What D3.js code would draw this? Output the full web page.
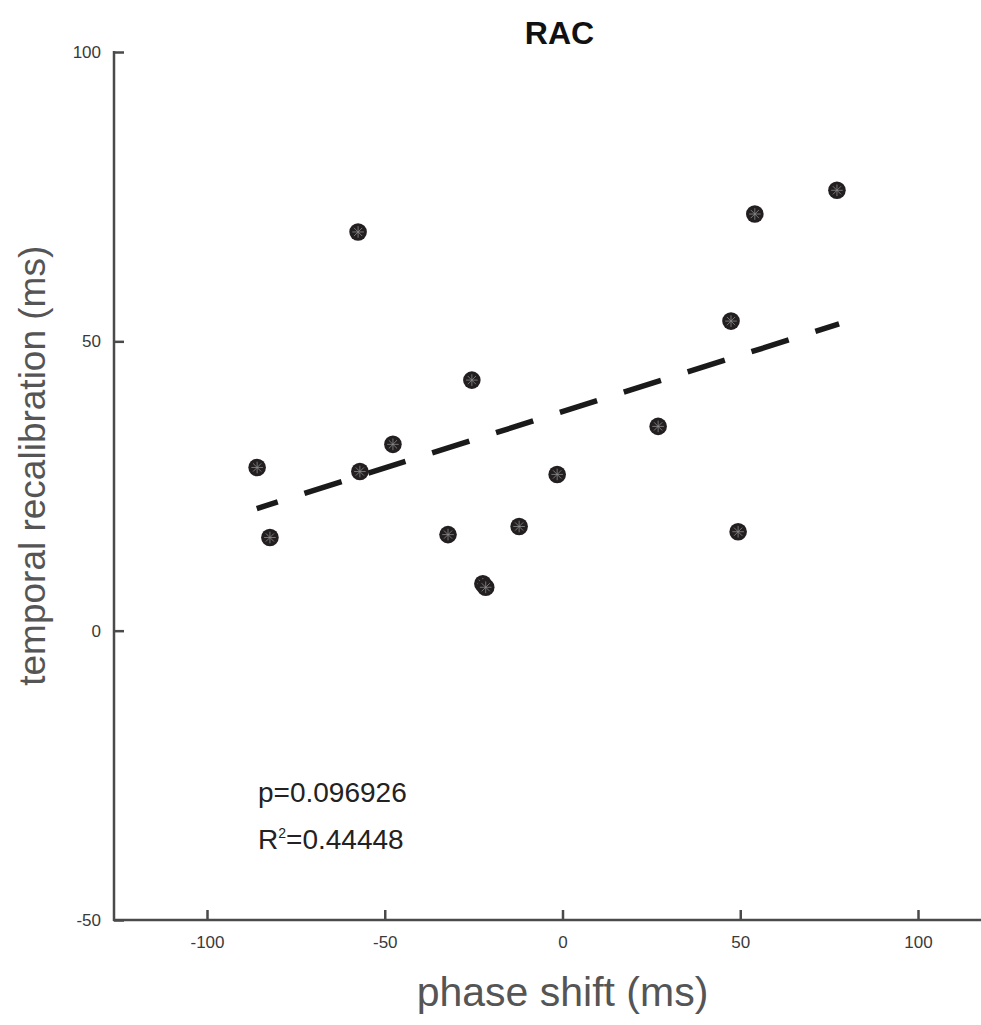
<!DOCTYPE html>
<html>
<head>
<meta charset="utf-8">
<script src="https://cdn.jsdelivr.net/npm/d3@7"></script>
<style>
  html, body { margin: 0; padding: 0; background: #fff; }
  svg { display: block; font-family: "Liberation Sans", Arial, Helvetica, sans-serif; }
</style>
</head>
<body>
<svg id="chart" width="981" height="1025"></svg>
<script>
// ---- data ----
const phaseShift = [-85.9, -82.3, -57.5, -57.0, -47.7, -32.2, -25.5, -22.4, -21.6, -12.2, -1.5, 26.9, 47.4, 49.4, 54.1, 77.2];
const recalibration = [28.2, 16.1, 68.9, 27.5, 32.2, 16.6, 43.3, 8.1, 7.5, 18.0, 27.0, 35.3, 53.5, 17.1, 72.0, 76.1];
const fitX = [-86.0, 77.8];
const fitY = [21.1, 53.0];
const xTicks = [-100, -50, 0, 50, 100];
const yTicks = [-50, 0, 50, 100];
const titleText = "RAC";
const xLabel = "phase shift (ms)";
const yLabel = "temporal recalibration (ms)";
const statP = "p=0.096926";
const statR = "0.44448";

// ---- scales ----
const svg = d3.select("#chart");
const x = d3.scaleLinear().domain([-100, 100]).range([207, 918]);
const y = d3.scaleLinear().domain([-50, 100]).range([920, 52]);
const axisColor = "#4a4a4a";
const xLeft = 114, xRight = 981;
const fmt = d => String(d);

// x axis
const gx = svg.append("g").attr("transform", `translate(0,${y(-50)})`);
gx.call(d3.axisBottom(x).tickValues(xTicks).tickSize(-10).tickPadding(16).tickFormat(fmt));
gx.select(".domain").remove();
gx.append("line").attr("x1", xLeft - 1).attr("x2", xRight).attr("y1", 0).attr("y2", 0)
  .attr("stroke", axisColor).attr("stroke-width", 2.5);
gx.selectAll(".tick line").attr("stroke", axisColor).attr("stroke-width", 2.5);
gx.selectAll(".tick text").attr("fill", "#3a3a3a").attr("font-size", 17)
  .attr("font-family", "Liberation Sans, Arial, sans-serif");

// y axis
const gy = svg.append("g").attr("transform", `translate(${xLeft},0)`);
gy.call(d3.axisLeft(y).tickValues(yTicks).tickSize(-10).tickPadding(13).tickFormat(fmt));
gy.select(".domain").remove();
gy.append("line").attr("x1", 0).attr("x2", 0).attr("y1", y(100) - 1).attr("y2", y(-50) + 1)
  .attr("stroke", axisColor).attr("stroke-width", 2.5);
gy.selectAll(".tick line").attr("stroke", axisColor).attr("stroke-width", 2.5);
gy.selectAll(".tick text").attr("fill", "#3a3a3a").attr("font-size", 17)
  .attr("font-family", "Liberation Sans, Arial, sans-serif");

// fit line (dashed)
svg.append("line")
  .attr("x1", x(fitX[0])).attr("y1", y(fitY[0]))
  .attr("x2", x(fitX[1])).attr("y2", y(fitY[1]))
  .attr("stroke", "#1a1a1a").attr("stroke-width", 5.5)
  .attr("stroke-dasharray", "39,28").attr("stroke-dashoffset", 17);

// points
const pts = d3.range(phaseShift.length).map(i => ({ x: phaseShift[i], y: recalibration[i] }));
const gp = svg.append("g");
const node = gp.selectAll("g.pt").data(pts).join("g").attr("class", "pt")
  .attr("transform", d => `translate(${x(d.x)},${y(d.y)})`);
node.append("circle").attr("r", 8.8).attr("fill", "#231f20");
const ar = 5.8;
[0, 45, 90, 135].forEach(a => {
  const r = a * Math.PI / 180;
  node.append("line")
    .attr("x1", -ar * Math.cos(r)).attr("y1", -ar * Math.sin(r))
    .attr("x2", ar * Math.cos(r)).attr("y2", ar * Math.sin(r))
    .attr("stroke", "#8a8a8a").attr("stroke-width", 0.8);
});

// title
svg.append("text").attr("x", x(0) - 3).attr("y", 44).attr("text-anchor", "middle")
  .attr("font-weight", "bold").attr("font-size", 32).attr("fill", "#111").text(titleText);

// axis labels
svg.append("text").attr("x", x(0)).attr("y", 1006).attr("text-anchor", "middle")
  .attr("font-size", 41).attr("fill", "#555").text(xLabel);
svg.append("text").attr("transform", `translate(45,${y(28.5)}) rotate(-90)`).attr("text-anchor", "middle")
  .attr("font-size", 37).attr("fill", "#555").text(yLabel);

// stats
svg.append("text").attr("x", 258).attr("y", 802).attr("font-size", 28).attr("fill", "#222").text(statP);
const rt = svg.append("text").attr("x", 258).attr("y", 849).attr("font-size", 28).attr("fill", "#222");
rt.append("tspan").text("R");
rt.append("tspan").attr("font-size", 14).attr("dy", -11).text("2");
rt.append("tspan").attr("dy", 11).text("=" + statR);
</script>
</body>
</html>
